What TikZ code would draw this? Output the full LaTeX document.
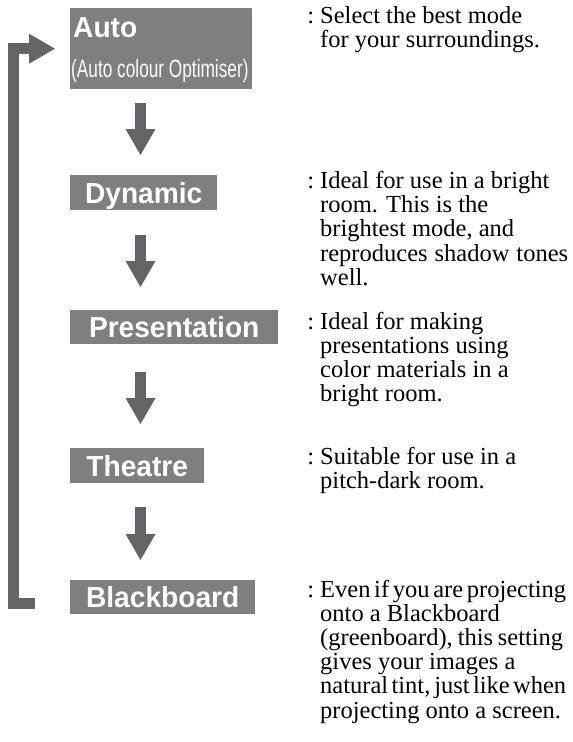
\documentclass[tikz,border=0pt]{standalone}
\usepackage{fontspec}
\setmainfont{Liberation Serif}
\newfontfamily\boxfont[FakeStretch=0.97]{Liberation Sans}
\newfontfamily\narrowfont[FakeStretch=0.69]{Liberation Sans}
\usetikzlibrary{arrows.meta}
\definecolor{boxgray}{RGB}{127,127,129}
\definecolor{arrgray}{RGB}{100,100,102}
\newcommand\fitline[2]{\hbox to #1{\spaceskip=0.25em plus 0.2em minus 0.2em\relax #2}}
\begin{document}
\begin{tikzpicture}[x=1pt,y=-1pt,
  modebox/.style={fill=boxgray, text=white, font=\boxfont\bfseries\fontsize{29}{30}\selectfont,
    inner sep=0pt, text height=21pt, text depth=0pt, anchor=north west, minimum height=35pt},
  autotext/.style={anchor=base west, inner sep=0pt, text=white},
  desc/.style={anchor=base west, inner sep=0pt, font=\fontsize{24.5}{24.2}\selectfont},
  blockarrow/.style={draw=arrgray, line width=11pt, line join=miter,
    -{Triangle[width=30pt,length=26pt,line width=0pt]}},
]
\useasboundingbox (0,0) rectangle (573,742);

% mode boxes
\node[fill=boxgray, inner sep=0pt, minimum width=182pt, minimum height=81pt, anchor=north west] (auto) at (70,8) {};
\node[autotext, font=\boxfont\bfseries\fontsize{29}{30}\selectfont] (autot) at (73,37.5) {Auto};
\node[autotext, font=\narrowfont\fontsize{25}{26}\selectfont] (autos) at (71,77) {(Auto colour Optimiser)};
\node[modebox, minimum width=147pt] (dyn) at (70,175) {Dynamic};
\node[modebox, minimum width=208pt, minimum height=34pt] (pres) at (70,310) {Presentation};
\node[modebox, minimum width=134pt] (thea) at (70,448) {Theatre};
\node[modebox, minimum width=185pt, minimum height=34pt] (black) at (70,580) {Blackboard};

% down arrows
\coordinate (ax) at (140.5,0);
\draw[blockarrow, shorten <=14pt, shorten >=20pt] (auto.south -| ax) -- (dyn.north -| ax);
\draw[blockarrow, shorten <=25pt, shorten >=23pt] (dyn.south -| ax) -- (pres.north -| ax);
\draw[blockarrow, shorten <=28pt, shorten >=24pt] (pres.south -| ax) -- (thea.north -| ax);
\draw[blockarrow, shorten <=24pt, shorten >=20pt] (thea.south -| ax) -- (black.north -| ax);

% loop arrow
\coordinate (lf) at (35,603);
\coordinate (lx) at (13.5,0);
\draw[blockarrow, shorten >=15pt] (lf) -- (lx |- lf) -- (lx |- auto.west) -- (auto.west);

% descriptions
\node[desc] (t1) at (320,23) {\vtop{\hbox{\llap{:\ }Select the best mode}\hbox{for your surroundings.}}};
\node[desc] (t2) at (320,188.5) {\vtop{\hbox{\llap{:\ }Ideal for use in a bright}\hbox{room. This is the}\hbox{brightest mode, and}\fitline{248pt}{reproduces shadow tones}\hbox{well.}}};
\node[desc] (t3) at (320,329) {\vtop{\hbox{\llap{:\ }Ideal for making}\hbox{presentations using}\hbox{color materials in a}\hbox{bright room.}}};
\node[desc] (t4) at (320,464) {\vtop{\hbox{\llap{:\ }Suitable for use in a}\hbox{pitch-dark room.}}};
\node[desc] (t5) at (320,597) {\vtop{\fitline{246pt}{\llap{:\ }Even if you are projecting}\hbox{onto a Blackboard}\fitline{243pt}{(greenboard), this setting}\hbox{gives your images a}\fitline{246pt}{natural tint, just like when}\hbox{projecting onto a screen.}}};
\end{tikzpicture}
\end{document}
